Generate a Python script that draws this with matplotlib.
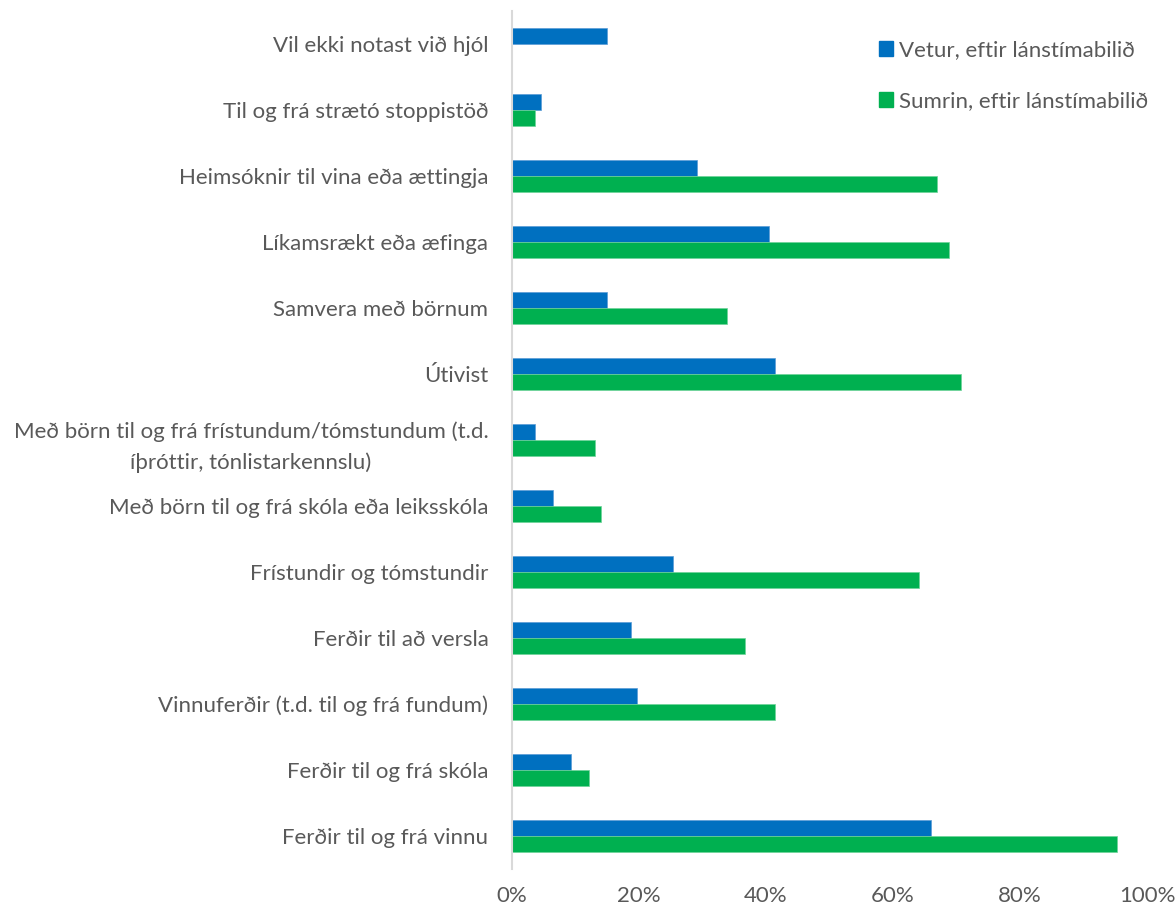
import matplotlib
matplotlib.use("Agg")
import matplotlib.pyplot as plt
from matplotlib.patches import Patch
import numpy as np

categories = [
    "Vil ekki notast við hjól",
    "Til og frá strætó stoppistöð",
    "Heimsóknir til vina eða ættingja",
    "Líkamsrækt eða æfinga",
    "Samvera með börnum",
    "Útivist",
    "Með börn til og frá frístundum/tómstundum (t.d.\níþróttir, tónlistarkennslu)",
    "Með börn til og frá skóla eða leiksskóla",
    "Frístundir og tómstundir",
    "Ferðir til að versla",
    "Vinnuferðir (t.d. til og frá fundum)",
    "Ferðir til og frá skóla",
    "Ferðir til og frá vinnu",
]
vetur = [15.0, 4.6, 29.1, 40.5, 15.0, 41.4, 3.6, 6.5, 25.4, 18.7, 19.7, 9.3, 66.0]
sumrin = [0.0, 3.6, 66.9, 68.8, 33.9, 70.7, 13.1, 14.0, 64.1, 36.7, 41.4, 12.1, 95.3]
series_names = ["Vetur, eftir lánstímabilið", "Sumrin, eftir lánstímabilið"]
x_ticks = [0, 20, 40, 60, 80, 100]

BLUE = "#0070C0"
GREEN = "#00B050"
TEXT = "#595959"
FS = 16

plt.rcParams["font.family"] = ["Lato", "DejaVu Sans"]

fig = plt.figure(figsize=(11.76, 9.1), dpi=100)
ax = fig.add_axes([512 / 1176, 1 - 869 / 910, 635 / 1176, 858 / 910])

y = np.arange(len(categories))
h = 0.24
ax.barh(y - h / 2, vetur, height=h, color=BLUE, edgecolor="#5B9BD5", linewidth=0.5)
ax.barh(y + h / 2, sumrin, height=h, color=GREEN, edgecolor="#6FD39A", linewidth=0.5)

ax.set_ylim(len(categories) - 0.5, -0.5)
ax.set_xlim(0, 100)
ax.set_yticks(y)
ax.set_yticklabels(categories, fontsize=FS, color=TEXT,
                   multialignment="center", linespacing=1.6)
ax.set_xticks(x_ticks)
ax.set_xticklabels([f"{t}%" for t in x_ticks], fontsize=FS, color=TEXT)
ax.tick_params(axis="y", length=0, pad=17)
ax.tick_params(axis="x", length=0, pad=12)

for s in ["top", "right", "bottom"]:
    ax.spines[s].set_visible(False)
ax.spines["left"].set_color("#D9D9D9")
ax.spines["left"].set_linewidth(1.5)

handles = [Patch(color=BLUE), Patch(color=GREEN)]
leg = fig.legend(handles, series_names, loc="upper left",
                 bbox_to_anchor=(859 / 1176, 1 - 20 / 910),
                 frameon=False, fontsize=FS, handlelength=0.65, handleheight=0.65,
                 handletextpad=0.25, labelspacing=1.42)
for t in leg.get_texts():
    t.set_color(TEXT)

fig.savefig("out.png", dpi=100)
